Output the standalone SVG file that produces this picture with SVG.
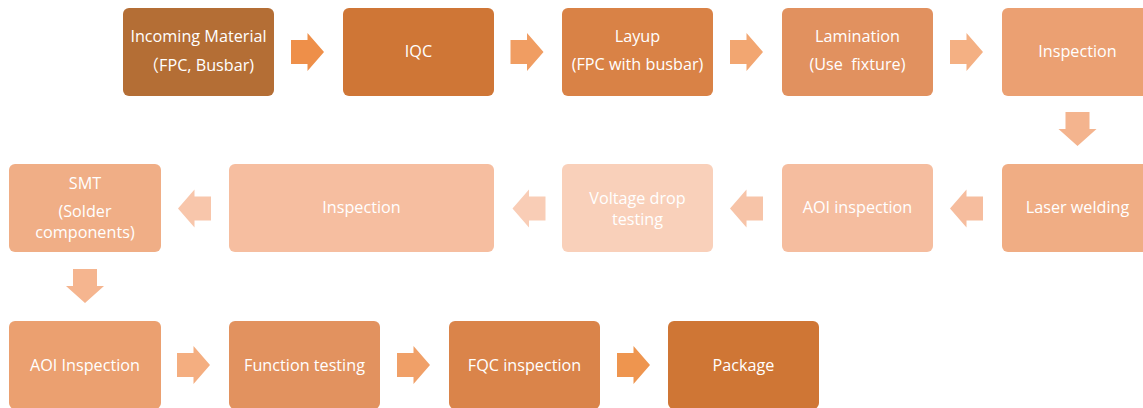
<svg xmlns="http://www.w3.org/2000/svg" width="1143" height="408" viewBox="0 0 1143 408">
<style>
.t{font-family:"Open Sans","Noto Sans","Noto Sans CJK SC",sans-serif;font-size:16.2px;fill:#ffffff;text-anchor:middle}
</style>
<defs>
<path id="ar" d="M0,-12 H16.5 V-19 L33,0 L16.5,19 V12 H0 Z"/>
<path id="al" d="M0,0 L16.5,-19 V-12 H33 V12 H16.5 V19 Z"/>
<path id="ad" d="M-12,0 V17 H-19 L0,34 L19,17 H12 V0 Z"/>
</defs>
<rect width="1143" height="408" fill="#ffffff"/>
<g id="connectors">
<use href="#ar" x="291" y="52" fill="#EE8F49"/>
<use href="#ar" x="510.5" y="52" fill="#F09D62"/>
<use href="#ar" x="730" y="52" fill="#F2A671"/>
<use href="#ar" x="950" y="52" fill="#F4B083"/>
<use href="#ad" x="1077.5" y="112" fill="#F4B48E"/>
<use href="#al" x="950" y="208.5" fill="#F6BD9E"/>
<use href="#al" x="730" y="208.5" fill="#F7C4A8"/>
<use href="#al" x="512.5" y="208.5" fill="#F9CDB6"/>
<use href="#al" x="178" y="208.5" fill="#F8C6AB"/>
<use href="#ad" x="85" y="269" fill="#F5B58F"/>
<use href="#ar" x="177" y="365" fill="#F4AE80"/>
<use href="#ar" x="397" y="365" fill="#F0A068"/>
<use href="#ar" x="617" y="365" fill="#EE954F"/>
</g>
<g id="n1"><rect x="123" y="8" width="151" height="88" rx="6" fill="#B46E35"/><text class="t" x="198.5" y="42">Incoming Material</text><text class="t" x="198.5" y="71">（FPC, Busbar)</text></g>
<g id="n2"><rect x="343" y="8" width="151" height="88" rx="6" fill="#CF7636"/><text class="t" x="418.5" y="57">IQC</text></g>
<g id="n3"><rect x="562" y="8" width="151" height="88" rx="6" fill="#D98246"/><text class="t" x="637.5" y="42">Layup</text><text class="t" x="637.5" y="70">(FPC with busbar)</text></g>
<g id="n4"><rect x="782" y="8" width="151" height="88" rx="6" fill="#E1915F"/><text class="t" x="857.5" y="42">Lamination</text><text class="t" x="857.5" y="70" xml:space="preserve">(Use  fixture)</text></g>
<g id="n5"><rect x="1002" y="8" width="151" height="88" rx="6" fill="#EBA072"/><text class="t" x="1077.5" y="57">Inspection</text></g>
<g id="n6"><rect x="1002" y="164" width="151" height="88" rx="6" fill="#F0AD84"/><text class="t" x="1077.5" y="213">Laser welding</text></g>
<g id="n7"><rect x="782" y="164" width="151" height="88" rx="6" fill="#F5BD9F"/><text class="t" x="857.5" y="213">AOI inspection</text></g>
<g id="n8"><rect x="562" y="164" width="151" height="88" rx="6" fill="#F9D0BA"/><text class="t" x="637.5" y="203.5">Voltage drop</text><text class="t" x="637.5" y="224.5">testing</text></g>
<g id="n9"><rect x="229" y="164" width="265" height="88" rx="6" fill="#F6BEA0"/><text class="t" x="361.5" y="213">Inspection</text></g>
<g id="n10"><rect x="9" y="164" width="152" height="88" rx="6" fill="#F0AE86"/><text class="t" x="85" y="189">SMT</text><text class="t" x="85" y="216.5">(Solder</text><text class="t" x="85" y="238">components)</text></g>
<g id="n11"><rect x="9" y="321" width="152" height="88" rx="6" fill="#EBA070"/><text class="t" x="85" y="370.5">AOI Inspection</text></g>
<g id="n12"><rect x="229" y="321" width="151" height="88" rx="6" fill="#E2925F"/><text class="t" x="304.5" y="370.5">Function testing</text></g>
<g id="n13"><rect x="449" y="321" width="151" height="88" rx="6" fill="#DA844A"/><text class="t" x="524.5" y="370.5">FQC inspection</text></g>
<g id="n14"><rect x="668" y="321" width="151" height="88" rx="6" fill="#CF7635"/><text class="t" x="743.5" y="370.5">Package</text></g>
</svg>
